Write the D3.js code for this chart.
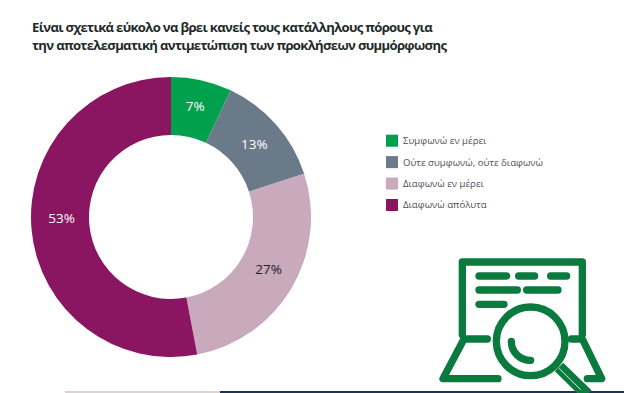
<!DOCTYPE html>
<html>
<head>
<meta charset="utf-8">
<script src="https://cdn.jsdelivr.net/npm/d3@7"></script>
<style>
  html, body { margin: 0; padding: 0; background: #fff; overflow: hidden; }
  svg { display: block; }
  text { font-family: "Open Sans", "Noto Sans", sans-serif; }
</style>
</head>
<body>
<svg id="chart" width="624" height="393"></svg>
<script>
const titleLines = [
  'Είναι σχετικά εύκολο να βρει κανείς τους κατάλληλους πόρους για',
  'την αποτελεσματική αντιμετώπιση των προκλήσεων συμμόρφωσης'
];
const categories = ['Συμφωνώ εν μέρει', 'Ούτε συμφωνώ, ούτε διαφωνώ', 'Διαφωνώ εν μέρει', 'Διαφωνώ απόλυτα'];
const values = [7, 13, 27, 53];
const colors = ['#00a04c', '#6b7a88', '#c9a9bc', '#8a1560'];
const labelColors = ['#ffffff', '#ffffff', '#222222', '#ffffff'];
// small nudges off the slice centroid, the labels in the picture are hand placed
const labelNudge = [[0, -3], [0, 1], [2, -4], [1, -9]];

const svg = d3.select('#chart');

svg.selectAll('.title')
  .data(titleLines)
  .enter()
  .append('text')
    .classed('title', true)
    .attr('x', 32)
    .attr('y', (d, i) => 32 + i * 17.8)
    .attr('font-size', 13.1)
    .attr('font-weight', 700)
    .attr('letter-spacing', -0.68)
    .attr('fill', '#1f2a2a')
    .text(d => d);

// donut
const cx = 171, cy = 217, outer = 140, inner = 82;
const pie = d3.pie().sort(null).value(d => d);
const arc = d3.arc().innerRadius(inner).outerRadius(outer);
const donut = svg.append('g').attr('transform', `translate(${cx},${cy})`);

donut.selectAll('path')
  .data(pie(values))
  .enter()
  .append('path')
    .attr('d', arc)
    .attr('fill', (d, i) => colors[i]);

donut.selectAll('text')
  .data(pie(values))
  .enter()
  .append('text')
    .attr('transform', (d, i) => {
      let c = arc.centroid(d);
      return `translate(${c[0] + labelNudge[i][0]},${c[1] + labelNudge[i][1]})`;
    })
    .attr('text-anchor', 'middle')
    .attr('dy', '0.36em')
    .attr('font-size', 13.5)
    .attr('fill', (d, i) => labelColors[i])
    .text(d => d.data + '%');

// legend
const legendY = d3.scalePoint().domain(categories).range([140.7, 205]);
const legend = svg.selectAll('.legend')
  .data(categories)
  .enter()
  .append('g')
    .classed('legend', true)
    .attr('transform', d => `translate(386,${legendY(d)})`);

legend.append('rect')
  .attr('y', -6)
  .attr('width', 12)
  .attr('height', 12)
  .attr('fill', (d, i) => colors[i]);

legend.append('text')
  .attr('x', 17)
  .attr('dy', '0.36em')
  .attr('font-size', 9.6)
  .attr('letter-spacing', 0.02)
  .attr('fill', '#4a4f55')
  .text(d => d);

// bottom strip of the cropped page
svg.append('rect').attr('x', 65).attr('y', 391).attr('width', 155).attr('height', 2).attr('fill', '#d8d4d6');
svg.append('rect').attr('x', 220).attr('y', 391).attr('width', 404).attr('height', 2).attr('fill', '#1d3350');

// laptop + magnifier icon, drawn at 3x
const green = '#0b7a3e';
const icon = svg.append('g')
  .attr('transform', 'translate(424,243) scale(0.3333)')
  .attr('fill', 'none')
  .attr('stroke', green)
  .attr('stroke-width', 22)
  .attr('stroke-linecap', 'round')
  .attr('stroke-linejoin', 'round');

const iconPaths = [
  'M115 275V57H475V275',
  'M165 99H248', 'M284 99H332', 'M380 99H428',
  'M165 141H280', 'M308 141H402',
  'M165 184H240',
  'M190 288H120L57 407H222',
  'M442 288H475L533 407H490'
];
icon.selectAll('path.line')
  .data(iconPaths)
  .enter()
  .append('path')
    .classed('line', true)
    .attr('d', d => d);

icon.append('path')
  .attr('d', 'M405 372L490 455')
  .attr('stroke-width', 36)
  .attr('stroke-linecap', 'butt');
icon.append('path')
  .attr('d', 'M405 376L470 440')
  .attr('stroke', '#dfeee5')
  .attr('stroke-width', 3)
  .attr('stroke-linecap', 'butt');
icon.append('circle')
  .attr('cx', 320)
  .attr('cy', 295)
  .attr('r', 103)
  .attr('fill', '#fff');
icon.append('path')
  .attr('d', 'M262 295C262 330 290 352 320 352');
</script>
</body>
</html>
